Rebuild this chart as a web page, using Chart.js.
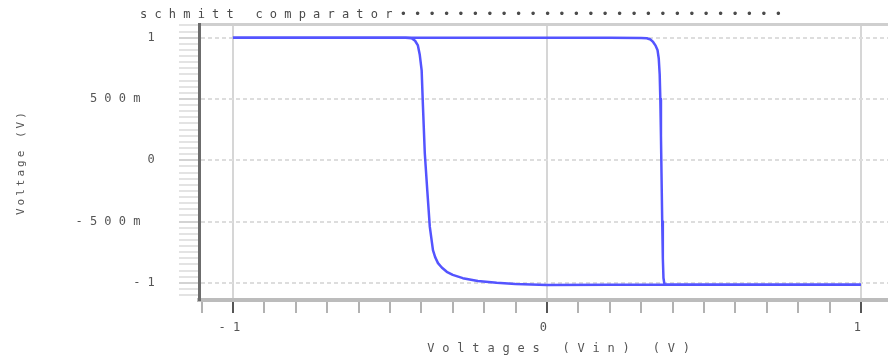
<!DOCTYPE html>
<html>
<head>
<meta charset="utf-8">
<script src="https://cdn.jsdelivr.net/npm/chart.js@4"></script>
<style>html,body{margin:0;padding:0;background:#fff;}canvas{display:block;}</style>
</head>
<body>
<canvas id="c" width="888" height="360"></canvas>
<script>
// ---- text ----
const chartTitle = "schmitt comparator" + "\u2022".repeat(27);
const xAxisTitle = "Voltages (Vin) (V)";
const yAxisTitle = "Voltage (V)";

// ---- tick labels ----
const xMajorTicks = [-1, 0, 1];
const xTickLabels = ["-1", "0", "1"];
const yMajorTicks = [1, 0.5, 0, -0.5, -1];
const yTickLabels = ["1", "500m ", "0", "-500m ", "-1"];

// ---- series: forward sweep (Vin rising) ----
const fwdVin  = [-1.0, -0.5, 0.0, 0.2, 0.3, 0.318, 0.33, 0.338, 0.346, 0.352, 0.356, 0.359, 0.361, 0.363, 0.365, 0.367, 0.369, 0.371, 0.374, 0.38, 0.5, 0.7, 1.0];
const fwdVout = [1.0, 1.0, 1.0, 0.999, 0.997, 0.995, 0.985, 0.965, 0.935, 0.9, 0.83, 0.7, 0.5, 0.2, -0.15, -0.5, -0.8, -0.96, -1.01, -1.015, -1.015, -1.015, -1.015];

// ---- series: reverse sweep (Vin falling) ----
const revVin  = [1.0, 0.7, 0.4, 0.2, 0.0, -0.1, -0.16, -0.22, -0.268, -0.3, -0.319, -0.335, -0.347, -0.356, -0.363, -0.373, -0.381, -0.389, -0.395, -0.399, -0.405, -0.411, -0.42, -0.431, -0.45, -0.6, -0.8, -1.0];
const revVout = [-1.015, -1.015, -1.015, -1.015, -1.018, -1.01, -1.0, -0.985, -0.962, -0.935, -0.91, -0.875, -0.839, -0.79, -0.733, -0.544, -0.25, 0.057, 0.45, 0.733, 0.86, 0.937, 0.975, 0.995, 1.0, 1.0, 1.0, 1.0];

const toPts = (xs, ys) => xs.map((x, i) => ({x: x, y: ys[i]}));
const isMajor = (list, v) => list.some(m => Math.abs(m - v) < 1e-6);
const labelFor = (list, labels, v) => { const i = list.findIndex(m => Math.abs(m - v) < 1e-6); return i >= 0 ? labels[i] : ''; };

const MONO = "'DejaVu Sans Mono', monospace";
const lineColor = '#5454ff';

const textPlugin = {
  id: 'textStyle',
  beforeDraw(chart) { chart.ctx.letterSpacing = '7.2px'; },
  afterLayout(chart) {
    if (chart.titleBlock) chart.titleBlock.left = 140;
    const cfg = [['x', '7.8px', 19], ['y', '3px', 0]];
    for (const [id, sp, dx] of cfg) {
      const s = chart.scales[id];
      if (!s || s.__wrapped) continue;
      const orig = s.drawTitle;
      s.drawTitle = function () {
        const c = this.ctx; c.save(); c.letterSpacing = sp; c.translate(dx, 0);
        orig.apply(this, arguments); c.restore();
      };
      s.__wrapped = true;
    }
  }
};

new Chart(document.getElementById('c'), {
  type: 'scatter',
  data: {
    datasets: [
      { label: 'Vin rising', data: toPts(fwdVin, fwdVout), showLine: true, borderColor: lineColor, backgroundColor: lineColor, borderWidth: 2.5, pointRadius: 0, tension: 0, borderJoinStyle: 'round' },
      { label: 'Vin falling', data: toPts(revVin, revVout), showLine: true, borderColor: lineColor, backgroundColor: lineColor, borderWidth: 2.5, pointRadius: 0, tension: 0, borderJoinStyle: 'round' }
    ]
  },
  options: {
    responsive: false,
    animation: false,
    layout: { padding: 0 },
    plugins: {
      legend: { display: false },
      tooltip: { enabled: false },
      title: {
        display: true, text: chartTitle, align: 'start', color: '#4a4a4a',
        font: { family: MONO, size: 12, weight: 'normal', lineHeight: 1.2 },
        padding: { top: 7, bottom: 2 }
      }
    },
    scales: {
      x: {
        type: 'linear', position: 'bottom', min: -1.108, max: 1.086,
        afterFit: s => { s.height = 60; },
        afterBuildTicks: s => { const t = []; for (let i = -11; i <= 10; i++) t.push({ value: Math.round(i) / 10 }); s.ticks = t; },
        ticks: {
          autoSkip: false, maxRotation: 0, padding: 8, color: '#555',
          font: { family: MONO, size: 12 },
          callback: v => labelFor(xMajorTicks, xTickLabels, v)
        },
        grid: {
          drawTicks: true, tickLength: 13,
          color: c => (c.tick && isMajor(xMajorTicks, c.tick.value)) ? '#d6d6d6' : 'rgba(0,0,0,0)',
          lineWidth: 2,
          tickColor: c => (c.tick && isMajor(xMajorTicks, c.tick.value)) ? '#555' : '#999',
          tickWidth: c => (c.tick && isMajor(xMajorTicks, c.tick.value)) ? 2 : 1.5
        },
        border: { display: true, color: '#bcbcbc', width: 4 },
        title: {
          display: true, text: xAxisTitle, color: '#555',
          font: { family: MONO, size: 12, lineHeight: 1.2 },
          padding: { top: 0, bottom: 4 }
        }
      },
      x2: {
        type: 'linear', position: 'top', min: -1.108, max: 1.086,
        afterFit: s => { s.height = 0; },
        ticks: { display: false },
        grid: { display: false, drawTicks: false },
        border: { display: true, color: '#cfcfcf', width: 3 }
      },
      y: {
        type: 'linear', position: 'left', min: -1.14, max: 1.11,
        afterFit: s => { s.width = 199; },
        afterBuildTicks: s => { const t = []; for (let i = -22; i <= 22; i++) t.push({ value: Math.round(i * 5) / 100 }); s.ticks = t; },
        ticks: {
          autoSkip: false, padding: 17, color: '#555',
          font: { family: MONO, size: 12 },
          callback: v => labelFor(yMajorTicks, yTickLabels, v)
        },
        grid: {
          drawTicks: true, tickLength: 20,
          color: c => (c.tick && isMajor(yMajorTicks, c.tick.value)) ? '#dddddd' : 'rgba(0,0,0,0)',
          lineWidth: 2,
          tickColor: c => (c.tick && isMajor(yMajorTicks, c.tick.value)) ? '#c4c4c4' : '#dadada',
          tickWidth: 1.5
        },
        border: { display: true, color: '#6c6c6c', width: 3, dash: [4, 3] },
        title: {
          display: true, text: yAxisTitle, color: '#555',
          font: { family: MONO, size: 11, lineHeight: 1.2 },
          padding: { top: 15, bottom: 0 }
        }
      }
    }
  },
  plugins: [textPlugin]
});
</script>
</body>
</html>
